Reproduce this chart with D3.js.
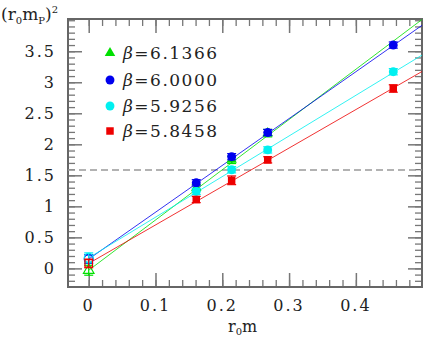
<!DOCTYPE html>
<html>
<head>
<meta charset="utf-8">
<script src="https://cdn.jsdelivr.net/npm/d3@7"></script>
<style>
  body { margin: 0; background: #fff; }
  text { font-family: "DejaVu Serif", serif; fill: #222; }
</style>
</head>
<body>
<div id="chart"></div>
<script>
// chart data
let betas = ["6.1366", "6.0000", "5.9256", "5.8458"];
let colors = ["#00e000", "#0000ee", "#00f0f0", "#ee0000"];
let shapes = ["triangle", "circle", "circle", "square"];
let xVals = [0.161, 0.214, 0.268, 0.456];
let yVals = [
  [1.30, 1.75, 2.18],
  [1.38, 1.80, 2.19, 3.60],
  [1.24, 1.59, 1.91, 3.17],
  [1.11, 1.42, 1.75, 2.90]
];
let yErr = [
  [0.05, 0.06, 0.06],
  [0.05, 0.05, 0.05, 0.05],
  [0.05, 0.05, 0.05, 0.05],
  [0.05, 0.07, 0.05, 0.06]
];
// chiral extrapolation (x = 0) and fit slope
let chiral = [-0.03, 0.15, 0.17, 0.08];
let chiralErr = [0.08, 0.07, 0.08, 0.07];
let slopes = [8.1, 7.55, 6.55, 6.2];
let refLine = 1.585;
let xTicks = [0, 0.1, 0.2, 0.3, 0.4];
let yTicks = [0, 0.5, 1, 1.5, 2, 2.5, 3, 3.5];

let W = 436, H = 339;
let margin = {left: 68, right: 14, top: 19, bottom: 52};

let svg = d3.select("#chart").append("svg").attr("width", W).attr("height", H);

let x = d3.scaleLinear().domain([-0.031, 0.499]).range([margin.left, W - margin.right]);
let y = d3.scaleLinear().domain([-0.3, 4.02]).range([H - margin.bottom, margin.top]);

svg.append("clipPath").attr("id", "clip")
  .append("rect")
    .attr("x", margin.left).attr("y", margin.top)
    .attr("width", W - margin.left - margin.right)
    .attr("height", H - margin.top - margin.bottom);

// ticks on all four sides
let minorX = d3.range(0, 0.5, 0.02), minorY = d3.range(-0.2, 4.01, 0.1);
let tickCol = "#777";

function xAxis(g, ax, len) {
  g.call(ax.tickValues(minorX).tickSize(len).tickFormat(""))
   .call(g => g.select(".domain").remove())
   .selectAll("line").attr("stroke", tickCol).attr("stroke-width", 1.3);
}
function yAxis(g, ax, len) {
  g.call(ax.tickValues(minorY).tickSize(len).tickFormat(""))
   .call(g => g.select(".domain").remove())
   .selectAll("line").attr("stroke", tickCol).attr("stroke-width", 1.3);
}

let bottomY = H - margin.bottom, rightX = W - margin.right;
svg.append("g").attr("transform", "translate(0," + bottomY + ")").call(g => xAxis(g, d3.axisTop(x), 7));
svg.append("g").attr("transform", "translate(0," + margin.top + ")").call(g => xAxis(g, d3.axisBottom(x), 7));
svg.append("g").attr("transform", "translate(" + margin.left + ",0)").call(g => yAxis(g, d3.axisRight(y), 7));
svg.append("g").attr("transform", "translate(" + rightX + ",0)").call(g => yAxis(g, d3.axisLeft(y), 7));

// major ticks
let bx = svg.append("g").attr("transform", "translate(0," + bottomY + ")")
  .call(d3.axisTop(x).tickValues(xTicks).tickSize(14).tickFormat(""));
bx.select(".domain").remove();
bx.selectAll("line").attr("stroke", tickCol).attr("stroke-width", 1.5);
let tx = svg.append("g").attr("transform", "translate(0," + margin.top + ")")
  .call(d3.axisBottom(x).tickValues(xTicks).tickSize(14).tickFormat(""));
tx.select(".domain").remove();
tx.selectAll("line").attr("stroke", tickCol).attr("stroke-width", 1.5);
let ly = svg.append("g").attr("transform", "translate(" + margin.left + ",0)")
  .call(d3.axisRight(y).tickValues(yTicks).tickSize(14).tickFormat(""));
ly.select(".domain").remove();
ly.selectAll("line").attr("stroke", tickCol).attr("stroke-width", 1.5);
let ry = svg.append("g").attr("transform", "translate(" + rightX + ",0)")
  .call(d3.axisLeft(y).tickValues(yTicks).tickSize(14).tickFormat(""));
ry.select(".domain").remove();
ry.selectAll("line").attr("stroke", tickCol).attr("stroke-width", 1.5);

// frame
svg.append("rect")
  .attr("x", margin.left).attr("y", margin.top)
  .attr("width", W - margin.left - margin.right)
  .attr("height", H - margin.top - margin.bottom)
  .attr("fill", "none").attr("stroke", "#666").attr("stroke-width", 2);

// tick labels
svg.selectAll("text.xl").data(xTicks).enter().append("text")
  .attr("class", "xl")
  .attr("x", d => x(d)).attr("y", 311)
  .attr("text-anchor", "middle")
  .attr("font-size", 16).attr("letter-spacing", 2)
  .text(d => d === 0 ? "0" : d3.format(".1f")(d));

svg.selectAll("text.yl").data(yTicks).enter().append("text")
  .attr("class", "yl")
  .attr("x", 56).attr("y", d => y(d)).attr("dy", "0.36em")
  .attr("text-anchor", "end")
  .attr("font-size", 16).attr("letter-spacing", 2)
  .text(d => String(d));

// axis titles
let yt = svg.append("text").attr("x", 1).attr("y", 20).attr("font-size", 17);
yt.append("tspan").text("(r");
yt.append("tspan").attr("font-size", 10).attr("dy", 4).text("0");
yt.append("tspan").attr("dy", -4).text("m");
yt.append("tspan").attr("font-size", 10).attr("dy", 4).text("P");
yt.append("tspan").attr("dy", -4).text(")");
yt.append("tspan").attr("font-size", 10).attr("dy", -7).text("2");

let xt = svg.append("text").attr("x", 228).attr("y", 332).attr("font-size", 16);
xt.append("tspan").text("r");
xt.append("tspan").attr("font-size", 10).attr("dy", 3).text("0");
xt.append("tspan").attr("dy", -3).text("m");

// dashed reference line
svg.append("line")
  .attr("x1", margin.left).attr("x2", rightX)
  .attr("y1", y(refLine)).attr("y2", y(refLine))
  .attr("stroke", "#999").attr("stroke-width", 1.6)
  .attr("stroke-dasharray", "7,4");

// fit lines
let plot = svg.append("g").attr("clip-path", "url(#clip)");
betas.forEach((b, i) => {
  plot.append("line")
    .attr("x1", x(0)).attr("y1", y(chiral[i]))
    .attr("x2", x(0.6)).attr("y2", y(chiral[i] + slopes[i] * 0.6))
    .attr("stroke", colors[i]).attr("stroke-width", 1).attr("opacity", 0.8);
});

let symGen = {
  triangle: d3.symbol().type(d3.symbolTriangle).size(48),
  circle: d3.symbol().type(d3.symbolCircle).size(62),
  square: d3.symbol().type(d3.symbolSquare).size(56)
};

function errBar(g, cx, y0, y1, col) {
  g.append("line").attr("x1", cx).attr("x2", cx).attr("y1", y0).attr("y2", y1)
    .attr("stroke", col).attr("stroke-width", 1.2);
  [y0, y1].forEach(v => g.append("line").attr("x1", cx - 4.5).attr("x2", cx + 4.5)
    .attr("y1", v).attr("y2", v).attr("stroke", col).attr("stroke-width", 1.2));
}

// data points
betas.forEach((b, i) => {
  let g = plot.append("g");
  yVals[i].forEach((v, j) => {
    errBar(g, x(xVals[j]), y(v - yErr[i][j]), y(v + yErr[i][j]), colors[i]);
  });
  g.selectAll("path").data(yVals[i]).enter().append("path")
    .attr("d", symGen[shapes[i]])
    .attr("transform", (d, j) => "translate(" + x(xVals[j]) + "," + y(d) + ")")
    .attr("fill", colors[i]);
  // chiral extrapolation, open symbol
  errBar(g, x(0), y(chiral[i] - chiralErr[i]), y(chiral[i] + chiralErr[i]), colors[i]);
  g.append("path").attr("d", symGen[shapes[i]])
    .attr("transform", "translate(" + x(0) + "," + y(chiral[i]) + ")")
    .attr("fill", "none").attr("stroke", colors[i]).attr("stroke-width", 1.2);
});

// legend
let legY = [53, 80, 106, 131];
betas.forEach((b, i) => {
  svg.append("path")
    .attr("d", symGen[shapes[i]])
    .attr("transform", "translate(110," + legY[i] + ")")
    .attr("fill", colors[i]);
  let t = svg.append("text").attr("x", 123).attr("y", legY[i]).attr("dy", "0.36em")
    .attr("font-size", 17).attr("letter-spacing", 1.5);
  t.append("tspan").attr("font-style", "italic").text("β");
  t.append("tspan").text("=" + b);
});
</script>
</body>
</html>
